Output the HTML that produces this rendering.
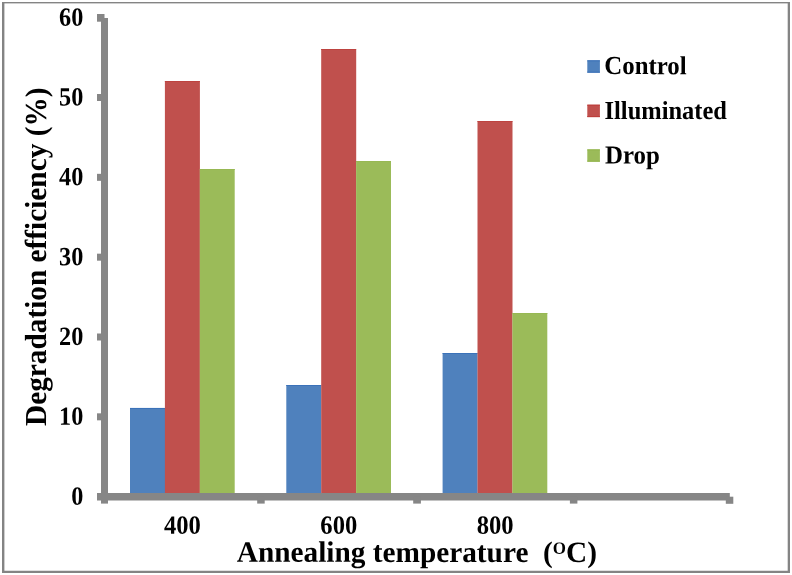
<!DOCTYPE html>
<html>
<head>
<meta charset="utf-8">
<title>Degradation efficiency vs annealing temperature</title>
<style>
  html, body { margin: 0; padding: 0; background: #ffffff; }
  body { width: 792px; height: 575px; overflow: hidden; font-family: "Liberation Serif", serif; }
  svg { display: block; will-change: transform; }
  text { font-family: "Liberation Serif", serif; font-weight: bold; fill: #000000; text-rendering: geometricPrecision; font-variant-ligatures: none; font-kerning: normal; }
  .tick { font-size: 24px; }
  .title { font-size: 29.3px; }
</style>
</head>
<body>
<svg width="792" height="575" viewBox="0 0 792 575">
  <rect x="0" y="0" width="792" height="575" fill="#ffffff"/>
  <!-- chart border -->
  <g fill="#848484">
    <rect x="2" y="2" width="788" height="1.4"/>
    <rect x="2" y="570.75" width="788" height="2.25"/>
    <rect x="2" y="2" width="2.4" height="571"/>
    <rect x="787.7" y="2" width="2.3" height="571"/>
  </g>

  <!-- bars -->
  <g>
    <rect x="130.0" y="407.96" width="35.0" height="86.04" fill="#4F81BD"/>
    <rect x="130.0" y="407.96" width="34.9" height="1" fill="#3B72B9"/>
    <rect x="164.9" y="81.0" width="35.0" height="413.0" fill="#C0504D"/>
    <rect x="164.9" y="81.0" width="34.9" height="1" fill="#BD4340"/>
    <rect x="199.8" y="169.0" width="34.9" height="325.0" fill="#9BBB59"/>
    <rect x="199.8" y="169.0" width="34.9" height="1" fill="#97B853"/>
    <rect x="286.3" y="385.0" width="35.0" height="109.0" fill="#4F81BD"/>
    <rect x="286.3" y="385.0" width="34.9" height="1" fill="#3B72B9"/>
    <rect x="321.2" y="49.0" width="35.0" height="445.0" fill="#C0504D"/>
    <rect x="321.2" y="49.0" width="34.9" height="1" fill="#BD4340"/>
    <rect x="356.1" y="161.0" width="34.9" height="333.0" fill="#9BBB59"/>
    <rect x="356.1" y="161.0" width="34.9" height="1" fill="#97B853"/>
    <rect x="442.6" y="353.0" width="35.0" height="141.0" fill="#4F81BD"/>
    <rect x="442.6" y="353.0" width="34.9" height="1" fill="#3B72B9"/>
    <rect x="477.5" y="121.0" width="35.0" height="373.0" fill="#C0504D"/>
    <rect x="477.5" y="121.0" width="34.9" height="1" fill="#BD4340"/>
    <rect x="512.4" y="313.0" width="34.9" height="181.0" fill="#9BBB59"/>
    <rect x="512.4" y="313.0" width="34.9" height="1" fill="#97B853"/>
  </g>

  <!-- axes -->
  <g fill="#868686">
    <rect x="101" y="18" width="7" height="485.6"/>
    <rect x="97" y="493" width="632.8" height="7.5"/>
    <rect x="97" y="14" width="7.5" height="7.7"/>
    <rect x="97" y="94" width="5" height="7"/>
    <rect x="97" y="173.83" width="5" height="7"/>
    <rect x="97" y="253.67" width="5" height="7"/>
    <rect x="97" y="333.5" width="5" height="7"/>
    <rect x="97" y="413.33" width="5" height="7"/>
    <rect x="257.2" y="496.7" width="7.5" height="6.9"/>
    <rect x="413.2" y="496.7" width="7.7" height="6.9"/>
    <rect x="569.9" y="496.7" width="7.5" height="6.9"/>
    <rect x="725.8" y="496.7" width="7.5" height="7.1"/>
  </g>

  <!-- y tick labels -->
  <g class="tick" text-anchor="end">
    <text transform="translate(83.3,25.77) rotate(0.04) scale(1.01,1.095)">60</text>
    <text transform="translate(83.3,105.5) rotate(0.04) scale(1.01,1.095)">50</text>
    <text transform="translate(83.3,185.33) rotate(0.04) scale(1.01,1.095)">40</text>
    <text transform="translate(83.3,265.17) rotate(0.04) scale(1.01,1.095)">30</text>
    <text transform="translate(83.3,345.0) rotate(0.04) scale(1.01,1.095)">20</text>
    <text transform="translate(83.3,424.83) rotate(0.04) scale(1.01,1.095)">10</text>
    <text transform="translate(83.3,504.75) rotate(0.04) scale(1.01,1.095)">0</text>
  </g>

  <!-- x tick labels -->
  <g class="tick" text-anchor="middle">
    <text transform="translate(182.4,533.65) rotate(0.04) scale(1.025,1.095)">400</text>
    <text transform="translate(338.8,533.65) rotate(0.04) scale(1.025,1.095)">600</text>
    <text transform="translate(495.1,533.65) rotate(0.04) scale(1.025,1.095)">800</text>
  </g>

  <!-- axis titles -->
  <text class="title" transform="translate(236.8,561.8) rotate(0.03) scale(1.0,1.012)" xml:space="preserve">Annealing temperature  (<tspan font-size="17px" dy="-8">O</tspan><tspan dy="8">C)</tspan></text>
  <text class="title" transform="translate(45.9,426) rotate(-89.96) scale(1,1.04)">Degradation efficiency (%)</text>

  <!-- legend -->
  <rect x="587.3" y="60.2" width="12.6" height="12.6" fill="#4F81BD"/>
  <rect x="587.3" y="60.4" width="12.6" height="1" fill="#3D73B8"/>
  <rect x="587.3" y="71.6" width="12.6" height="1" fill="#3D73B8"/>
  <rect x="587.3" y="104.6" width="12.6" height="12.6" fill="#C0504D"/>
  <rect x="587.3" y="104.8" width="12.6" height="1" fill="#BD3F3C"/>
  <rect x="587.3" y="116" width="12.6" height="1" fill="#BD3F3C"/>
  <rect x="587.3" y="149.3" width="12.6" height="12.5" fill="#9BBB59"/>
  <rect x="587.3" y="149.5" width="12.6" height="1" fill="#93B54E"/>
  <rect x="587.3" y="160.6" width="12.6" height="1" fill="#93B54E"/>
  <g class="tick">
    <text transform="translate(604.3,74.1) rotate(0.04) scale(1.035,1.08)">Control</text>
    <text transform="translate(604.5,118.9) rotate(0.04) scale(1.02,1.08)">Illuminated</text>
    <text transform="translate(605.0,163.6) rotate(0.04) scale(1.037,1.08)">Drop</text>
  </g>
</svg>
</body>
</html>
